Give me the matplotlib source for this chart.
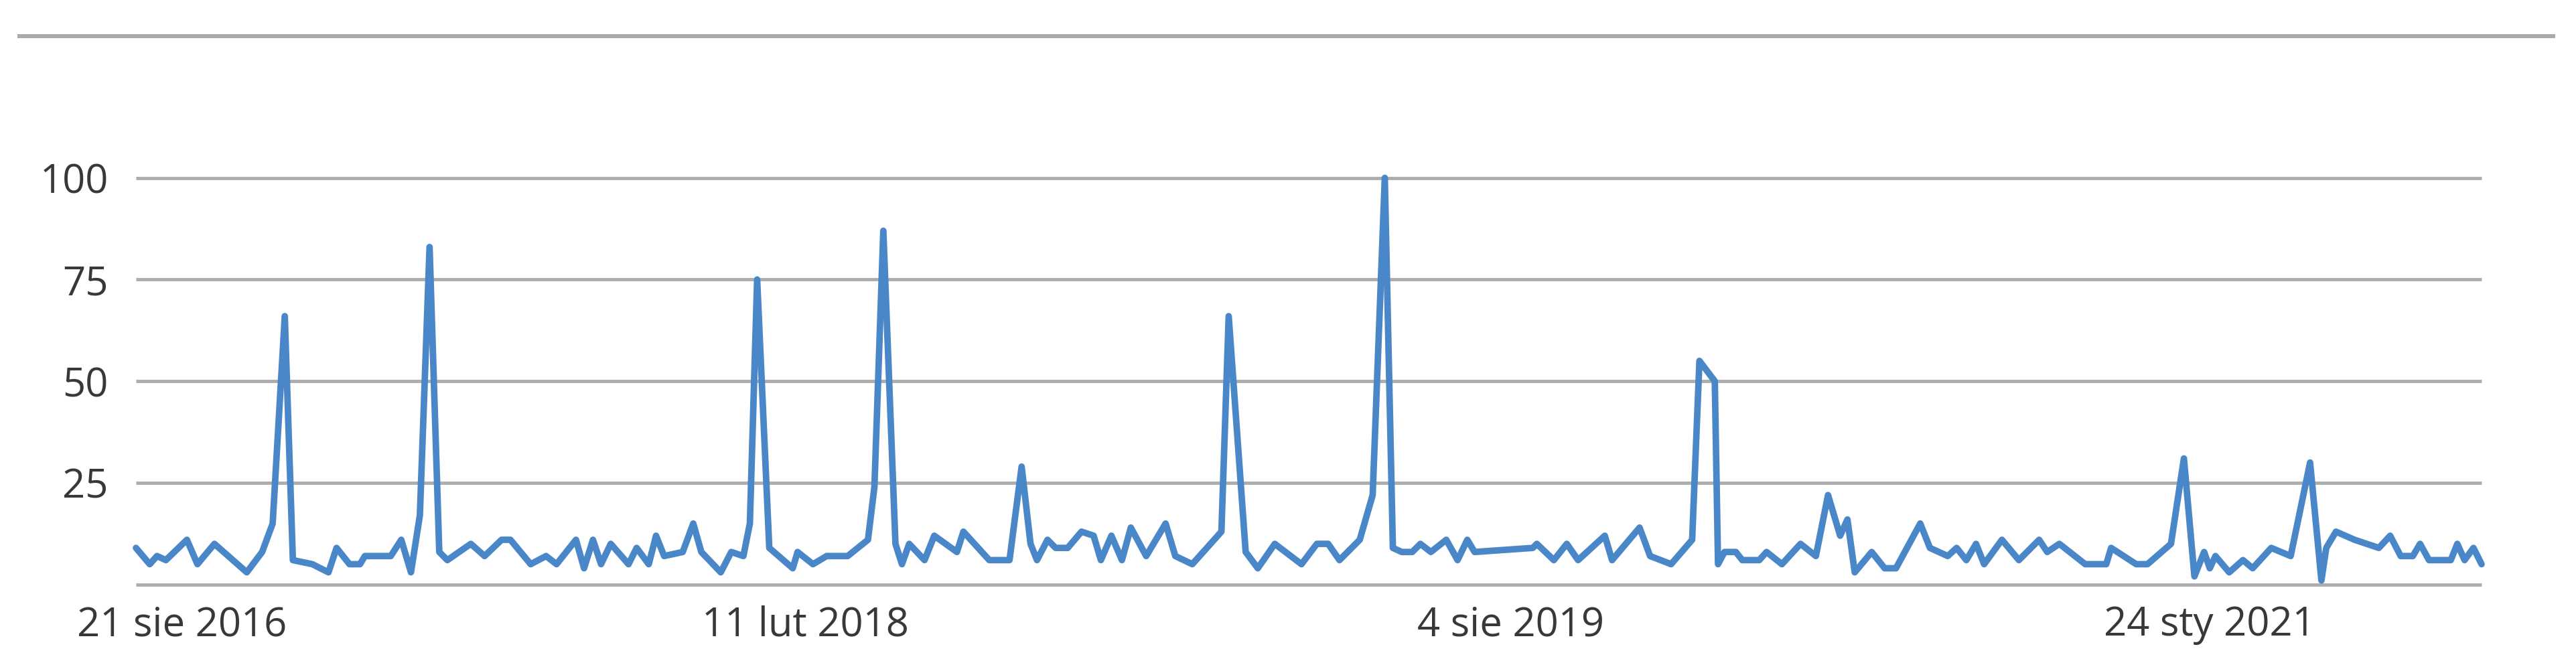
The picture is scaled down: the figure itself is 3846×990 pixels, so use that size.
import matplotlib
matplotlib.use("Agg")
import matplotlib.pyplot as plt
from matplotlib.lines import Line2D

plt.rcParams['font.family'] = ['Open Sans', 'DejaVu Sans']

# ---- data (x = week index along the axis, y = relative interest) ----
week = [0, 1.7, 2.6, 3.7, 6.3, 7.6, 9.7, 13.7, 15.6, 16.9, 18.4, 19.4, 21.8, 23.8,
        24.8, 26.4, 27.7, 28.3, 31.5, 32.8, 34.0, 35.1, 36.3, 37.5, 38.5, 41.4,
        43.1, 45.2, 46.3, 48.8, 50.7, 52.0, 54.4, 55.4, 56.5, 57.5, 58.7, 60.9,
        61.9, 63.4, 64.3, 65.3, 67.6, 68.9, 69.9, 72.3, 73.6, 75.1, 75.9, 76.8,
        78.3, 81.2, 81.8, 83.7, 85.4, 88.0, 90.5, 91.3, 92.4, 93.9, 94.7, 95.6,
        97.5, 98.7, 101.5, 102.3, 105.5, 108.0, 109.5, 110.6, 111.4, 112.7, 113.7,
        115.2, 116.9, 118.4, 119.3, 120.6, 121.9, 123.0, 124.9, 127.3, 128.5,
        130.6, 134.2, 135.1, 137.2, 138.7, 140.8, 144.1, 146.0, 147.4, 148.8,
        151.3, 152.9, 154.4, 155.4, 156.5, 157.8, 158.8, 160.1, 162.0, 163.4,
        164.6, 165.5, 172.7, 173.2, 175.3, 176.9, 178.3, 181.6, 182.5, 185.9,
        187.2, 189.8, 192.4, 193.3, 195.2, 195.6, 196.4, 197.8, 198.6, 200.7,
        201.6, 203.5, 205.8, 207.7, 209.2, 210.7, 211.6, 212.5, 214.6, 216.2,
        217.6, 220.6, 221.8, 224.0, 225.1, 226.3, 227.5, 228.5, 230.7, 232.8,
        235.3, 236.3, 237.8, 241.0, 243.6, 244.2, 247.3, 248.7, 251.6, 253.2,
        254.5, 255.7, 256.4, 257.1, 258.8, 260.5, 261.7, 264.0, 266.4, 268.8,
        270.2, 270.8, 272.0, 274.3, 277.3, 278.7, 280.0, 281.5, 282.4, 283.5,
        286.2, 287.0, 287.9, 289.0, 290.0]
interest = [9, 5, 7, 6, 11, 5, 10, 3, 8, 15, 66, 6, 5, 3,
            9, 5, 5, 7, 7, 11, 3, 17, 83, 8, 6, 10,
            7, 11, 11, 5, 7, 5, 11, 4, 11, 5, 10, 5,
            9, 5, 12, 7, 8, 15, 8, 3, 8, 7, 15, 75,
            9, 4, 8, 5, 7, 7, 11, 24, 87, 10, 5, 10,
            6, 12, 8, 13, 6, 6, 29, 10, 6, 11, 9,
            9, 13, 12, 6, 12, 6, 14, 7, 15, 7,
            5, 13, 66, 8, 4, 10, 5, 10, 10, 6,
            11, 22, 100, 9, 8, 8, 10, 8, 11, 6,
            11, 8, 9, 10, 6, 10, 6, 12, 6, 14,
            7, 5, 11, 55, 50, 5, 8, 8, 6, 6,
            8, 5, 10, 7, 22, 12, 16, 3, 8, 4,
            4, 15, 9, 7, 9, 6, 10, 5, 11, 6,
            11, 8, 10, 5, 5, 9, 5, 5, 10, 31,
            2, 8, 4, 7, 3, 6, 4, 9, 7, 30,
            1, 9, 13, 11, 9, 12, 7, 7, 10, 6,
            6, 10, 6, 9, 5]

tick_pos = [5.7, 82.8, 170.0, 256.4]
tick_labels = ['21 sie 2016', '11 lut 2018', '4 sie 2019', '24 sty 2021']
y_ticks = [0, 25, 50, 75, 100]
y_tick_labels = ['', '25', '50', '75', '100']

W, H = 3846, 990
fig = plt.figure(figsize=(W / 100, H / 100), dpi=100)
fig.patch.set_facecolor('white')

left, right, top, bottom = 203, 3705, 265.6, 872.8
ax = fig.add_axes([left / W, (H - bottom) / H, (right - left) / W, (bottom - top) / H])
ax.set_xlim(0, 290)
ax.set_ylim(0, 100)
for s in ax.spines.values():
    s.set_visible(False)

ax.hlines(y_ticks, 0, 290, colors='#adadad', linewidth=3.5, clip_on=False, zorder=1)
ax.plot(week, interest, color='#4a87c8', linewidth=7.0, solid_joinstyle='round',
        solid_capstyle='round', clip_on=False, zorder=3)

ax.set_yticks(y_ticks)
ax.set_yticklabels(y_tick_labels)
ax.set_xticks(tick_pos)
ax.set_xticklabels(tick_labels)
ax.tick_params(axis='y', length=0, pad=29.6, labelsize=43, labelcolor='#383838')
ax.tick_params(axis='x', length=0, pad=22, labelsize=43, labelcolor='#383838')

fig.add_artist(Line2D([29 / W, 3812 / W], [1 - 53.7 / H] * 2, color='#aaaaaa',
                      linewidth=4.3, transform=fig.transFigure))

fig.savefig('out.png', dpi=100)
